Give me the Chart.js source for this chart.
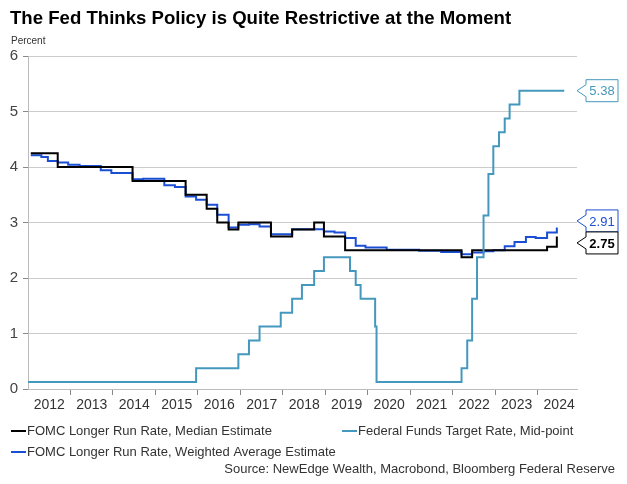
<!DOCTYPE html>
<html>
<head>
<meta charset="utf-8">
<script src="https://cdn.jsdelivr.net/npm/chart.js@4.4.1/dist/chart.umd.min.js"></script>
<style>
  body { margin: 0; background: #fff; }
  #wrap { width: 627px; height: 484px; position: relative; }
</style>
</head>
<body>
<div id="wrap"><canvas id="chart"></canvas></div>
<script>
// FOMC SEP meeting dates (longer run rate projections)
const sepDates = [
  '2012-01-25', '2012-04-25', '2012-06-20', '2012-09-13', '2012-12-12',
  '2013-03-20', '2013-06-19', '2013-09-18', '2013-12-18',
  '2014-03-19', '2014-06-18', '2014-09-17', '2014-12-17',
  '2015-03-18', '2015-06-17', '2015-09-17', '2015-12-16',
  '2016-03-16', '2016-06-15', '2016-09-21', '2016-12-14',
  '2017-03-15', '2017-06-14', '2017-09-20', '2017-12-13',
  '2018-03-21', '2018-06-13', '2018-09-26', '2018-12-19',
  '2019-03-20', '2019-06-19', '2019-09-18', '2019-12-11',
  '2020-06-10', '2020-09-16', '2020-12-16',
  '2021-03-17', '2021-06-16', '2021-09-22', '2021-12-15',
  '2022-03-16', '2022-06-15', '2022-09-21', '2022-12-14',
  '2023-03-22', '2023-06-14', '2023-09-20', '2023-12-13',
  '2024-03-20', '2024-06-12'
];
const medianRate = [
  4.25, 4.25, 4.25, 4.0, 4.0,
  4.0, 4.0, 4.0, 4.0,
  4.0, 3.75, 3.75, 3.75,
  3.75, 3.75, 3.5, 3.5,
  3.25, 3.0, 2.875, 3.0,
  3.0, 3.0, 2.75, 2.75,
  2.875, 2.875, 3.0, 2.75,
  2.75, 2.5, 2.5, 2.5,
  2.5, 2.5, 2.5,
  2.5, 2.5, 2.5, 2.5,
  2.375, 2.5, 2.5, 2.5,
  2.5, 2.5, 2.5, 2.5,
  2.5625, 2.75
];
const weightedRate = [
  4.21, 4.18, 4.11, 4.08, 4.04,
  4.02, 4.02, 3.94, 3.89,
  3.89, 3.78, 3.79, 3.79,
  3.67, 3.64, 3.47, 3.41,
  3.32, 3.14, 2.91, 2.96,
  2.97, 2.93, 2.79, 2.79,
  2.88, 2.88, 2.88, 2.84,
  2.82, 2.72, 2.58, 2.55,
  2.51, 2.51, 2.51,
  2.49, 2.49, 2.47, 2.47,
  2.43, 2.46, 2.48, 2.50,
  2.57, 2.65, 2.74, 2.72,
  2.82, 2.91
];

// Fed funds target range mid-point, by decision date
const fedDates = [
  '2012-01-01', '2015-12-16', '2016-12-14', '2017-03-15', '2017-06-14', '2017-12-13',
  '2018-03-21', '2018-06-13', '2018-09-26', '2018-12-19',
  '2019-07-31', '2019-09-18', '2019-10-30', '2020-03-03', '2020-03-15',
  '2022-03-16', '2022-05-04', '2022-06-15', '2022-07-27', '2022-09-21', '2022-11-02', '2022-12-14',
  '2023-02-01', '2023-03-22', '2023-05-03', '2023-07-26', '2024-08-15'
];
const fedRate = [
  0.125, 0.375, 0.625, 0.875, 1.125, 1.375,
  1.625, 1.875, 2.125, 2.375,
  2.125, 1.875, 1.625, 1.125, 0.125,
  0.375, 0.875, 1.625, 2.375, 3.125, 3.875, 4.375,
  4.625, 4.875, 5.125, 5.375, 5.375
];

const yearLabels = ['2012', '2013', '2014', '2015', '2016', '2017', '2018',
  '2019', '2020', '2021', '2022', '2023', '2024'];
const yTicks = [0, 1, 2, 3, 4, 5, 6];

const seriesNames = [
  'FOMC Longer Run Rate, Median Estimate',
  'Federal Funds Target Rate, Mid-point',
  'FOMC Longer Run Rate, Weighted Average Estimate'
];
const colBlack = '#000000';
const colTeal = '#4598bd';
const colBlue = '#1b4fd3';

function decYear(s) {
  const d = new Date(s + 'T00:00:00Z');
  const y = d.getUTCFullYear();
  const a = Date.UTC(y, 0, 1), b = Date.UTC(y + 1, 0, 1);
  return y + (d.getTime() - a) / (b - a);
}
function pts(dates, vals) {
  return dates.map((d, i) => ({ x: decYear(d), y: vals[i] }));
}

const FONT = "'Liberation Sans', Arial, sans-serif";

const extras = {
  id: 'extras',
  afterDraw(chart) {
    const ctx = chart.ctx;
    const ys = chart.scales.y;
    ctx.save();
    // title
    ctx.fillStyle = '#000';
    ctx.font = 'bold 18.6px ' + FONT;
    ctx.textBaseline = 'alphabetic';
    ctx.textAlign = 'left';
    ctx.fillText('The Fed Thinks Policy is Quite Restrictive at the Moment', 10, 24);
    ctx.font = '10px ' + FONT;
    ctx.fillStyle = '#333';
    ctx.fillText('Percent', 11, 44);

    // legend
    ctx.font = '13px ' + FONT;
    ctx.textBaseline = 'middle';
    const legend = [
      { name: seriesNames[0], col: colBlack, x: 11, y: 431 },
      { name: seriesNames[1], col: colTeal, x: 342, y: 431 },
      { name: seriesNames[2], col: colBlue, x: 11, y: 452 }
    ];
    legend.forEach(l => {
      ctx.fillStyle = l.col;
      ctx.fillRect(l.x, l.y - 1, 15, 2);
      ctx.fillStyle = '#333';
      ctx.fillText(l.name, l.x + 16, l.y);
    });
    ctx.textAlign = 'right';
    ctx.fillText('Source: NewEdge Wealth, Macrobond, Bloomberg Federal Reserve', 615, 469);

    // end-value callouts
    const boxH = 22;
    const tags = chart.data.datasets.map(ds => {
      const last = ds.data[ds.data.length - 1].y;
      return { v: last, c: ys.getPixelForValue(last), col: ds.borderColor, bold: ds.tagBold, text: ds.tagColor };
    }).sort((a, b) => a.c - b.c);
    for (let i = 1; i < tags.length; i++) {
      const p = tags[i - 1], q = tags[i];
      if (q.c - p.c < boxH) {
        const m = (p.c + q.c) / 2;
        p.c = m - boxH / 2;
        q.c = m + boxH / 2;
      }
    }
    const bx = 586, bw = 32, tipX = 577;
    tags.forEach(t => {
      const top = t.c - boxH / 2, bot = t.c + boxH / 2;
      ctx.beginPath();
      ctx.moveTo(tipX, t.c);
      ctx.lineTo(bx, t.c - 6);
      ctx.lineTo(bx, top);
      ctx.lineTo(bx + bw, top);
      ctx.lineTo(bx + bw, bot);
      ctx.lineTo(bx, bot);
      ctx.lineTo(bx, t.c + 6);
      ctx.closePath();
      ctx.fillStyle = '#fff';
      ctx.fill();
      ctx.lineWidth = 1;
      ctx.strokeStyle = t.col;
      ctx.stroke();
      ctx.fillStyle = t.text;
      ctx.font = (t.bold ? 'bold ' : '') + '13px ' + FONT;
      ctx.textAlign = 'center';
      ctx.textBaseline = 'middle';
      ctx.fillText(t.v.toFixed(2), bx + bw / 2, t.c + 1);
    });
    ctx.restore();
  }
};

new Chart(document.getElementById('chart'), {
  type: 'line',
  data: {
    datasets: [
      { label: seriesNames[1], data: pts(fedDates, fedRate), borderColor: colTeal, tagColor: colTeal },
      { label: seriesNames[0], data: pts(sepDates, medianRate), borderColor: colBlack, tagColor: '#000', tagBold: true },
      { label: seriesNames[2], data: pts(sepDates, weightedRate), borderColor: colBlue, tagColor: colBlue }
    ].map(ds => Object.assign({ stepped: 'before', borderWidth: 2, pointRadius: 0, fill: false, tension: 0 }, ds))
  },
  options: {
    responsive: true,
    maintainAspectRatio: false,
    animation: false,
    events: [],
    layout: { padding: { left: 0, right: 50, top: 56, bottom: 0 } },
    plugins: { legend: { display: false }, tooltip: { enabled: false }, title: { display: false } },
    scales: {
      x: {
        type: 'linear',
        min: 2012.0,
        max: 2024.92,
        afterBuildTicks(scale) {
          const t = [];
          yearLabels.forEach((y, i) => {
            if (i > 0) t.push({ value: +y });
            t.push({ value: +y + 0.5, label: y });
          });
          scale.ticks = t;
        },
        afterFit(scale) { scale.height = 484 - 389; },
        ticks: {
          autoSkip: false,
          maxRotation: 0,
          padding: 2,
          color: '#333',
          font: { family: FONT, size: 14 },
          callback(v) {
            const i = yearLabels.indexOf(String(v - 0.5));
            return i >= 0 ? yearLabels[i] : '';
          }
        },
        grid: {
          drawOnChartArea: false,
          tickLength: 6,
          tickColor: c => (c.tick && Number.isInteger(c.tick.value)) ? '#888' : 'rgba(0,0,0,0)'
        },
        border: { color: '#bbb', width: 1 }
      },
      y: {
        min: 0,
        max: 6,
        afterBuildTicks(scale) { scale.ticks = yTicks.map(v => ({ value: v })); },
        afterFit(scale) { scale.width = 28; },
        ticks: { color: '#444', font: { family: FONT, size: 15 }, padding: 5 },
        grid: { color: '#cccccc', lineWidth: 1, tickLength: 5, tickColor: '#888' },
        border: { color: '#bbb', width: 1 }
      }
    }
  },
  plugins: [extras]
});
</script>
</body>
</html>
